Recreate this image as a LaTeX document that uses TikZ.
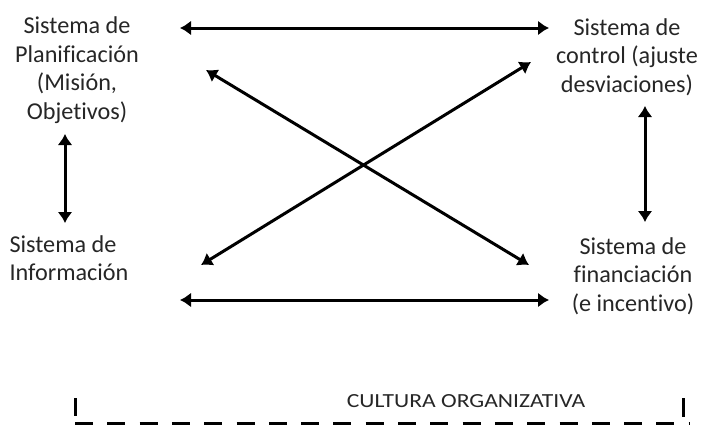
\documentclass[tikz,border=0pt]{standalone}
\usepackage{fontspec}
\setmainfont{Carlito}[Ligatures=NoCommon]
\usetikzlibrary{arrows.meta}
\begin{document}
\begin{tikzpicture}[x=0.5pt,y=-0.5pt,line join=round]
\tikzstyle{sistema} = [align=center,inner sep=0pt,text=black!85,font=\fontsize{12.1}{14.3}\selectfont]
\tikzstyle{flecha} = [line width=1.5pt,{Latex[length=5.5pt,width=7.5pt]}-{Latex[length=5.5pt,width=7.5pt]}]
\tikzstyle{marca} = [line width=1.5pt]
\useasboundingbox (0,0) rectangle (701,428);
%los cuatro sistemas
\node[sistema] (plan) at (77,70) {Sistema de\\Planificación\\(Misión,\\Objetivos)};
\node[sistema] (control) at (627,57) {Sistema de\\control (ajuste\\desviaciones)};
\node[sistema,align=left] (info) at (69,258) {Sistema de\\Información};
\node[sistema] (fin) at (633,276) {Sistema de\\financiación\\(e incentivo)};
%cultura
\node[inner sep=0pt,text=black!85,font=\fontsize{10}{12}\selectfont] (cultura) at (466,401) {\scalebox{1.18}[1]{CULTURA ORGANIZATIVA}};
%extremos de las flechas
\coordinate (a1) at (180,28);
\coordinate (a2) at (549,28);
\coordinate (b1) at (180,300);
\coordinate (b2) at (549,300);
\coordinate (c1) at (65,134);
\coordinate (c2) at (65,223);
\coordinate (d1) at (645,106);
\coordinate (d2) at (645,222);
\coordinate (e1) at (206,70);
\coordinate (e2) at (529,265);
\coordinate (f1) at (201,265);
\coordinate (f2) at (531,62);
%flechas
\draw[flecha] (a1)--(a2);
\draw[flecha] (b1)--(b2);
\draw[flecha] (c1)--(c2);
\draw[flecha] (d1)--(d2);
\draw[flecha] (e1)--(e2);
\draw[flecha] (f1)--(f2);
%linea de la cultura
\coordinate (g1) at (75,423);
\coordinate (g2) at (690,423);
\draw[marca] (75,398)--(75,416);
\draw[marca] (683,398)--(683,417);
\draw[marca,dash pattern=on 9pt off 7.15pt] (g1)--(g2);
\end{tikzpicture}
\end{document}
